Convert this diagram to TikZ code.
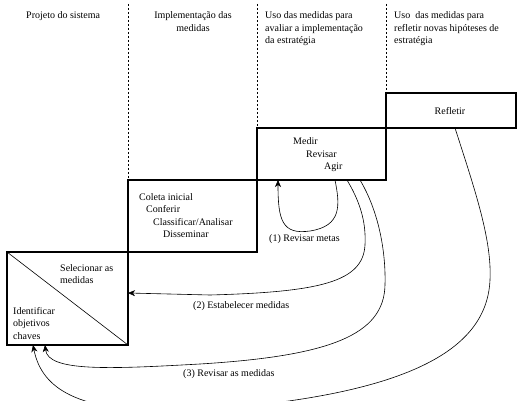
\documentclass[tikz,border=0pt]{standalone}
\usepackage{fontspec}
\setmainfont{Liberation Serif}
\usetikzlibrary{arrows.meta}

\begin{document}
\begin{tikzpicture}[x=1pt,y=-1pt]
    \tikzstyle{stage}=[draw=black,line width=2pt,inner sep=0pt,outer sep=0pt]
    \tikzstyle{txt}=[inner sep=0pt,align=left,anchor=base west,font=\fontsize{10}{12.5}\selectfont]
    \tikzstyle{sep}=[line width=0.5pt,dash pattern=on 2pt off 2pt]
    \tikzstyle{fb}=[line width=0.6pt,-{Stealth[length=7pt,width=6pt,inset=2pt]}]
    \useasboundingbox (0,0) rectangle (520,401);

    \node (ident)[stage,minimum width=121pt,minimum height=93pt] at (67.5,298.5) {};
    \node (coleta)[stage,minimum width=129pt,minimum height=72pt] at (192.5,216) {};
    \node (medir)[stage,minimum width=129pt,minimum height=52pt] at (321.5,154) {};
    \node (refletir)[stage,minimum width=130pt,minimum height=35pt] at (451,110.5) {};
    \draw[line width=0.6pt] (ident.north west) -- (ident.south east);

    \coordinate (d1) at (128,4);
    \coordinate (d2) at (257,4);
    \coordinate (d3) at (386,4);
    \draw[sep] (d1) -- (coleta.north west);
    \draw[sep] (d2) -- (medir.north west);
    \draw[sep] (d3) -- (refletir.north west);

    % base = baseline of the last line
    \node (h1)[txt] at (26,19) {Projeto do sistema};
    \node (h2)[txt,align=center,anchor=base] at (193,31.5) {Implementação das\\medidas};
    \node (h3)[txt] at (265,44) {Uso das medidas para\\avaliar a implementação\\da estratégia};
    \node (h4)[txt] at (394,44) {Uso\ \ das medidas para\\refletir novas hipóteses de\\estratégia};

    \node (t4)[txt,anchor=base] at (450,115) {Refletir};
    \node (t3)[txt] at (293,170) {Medir\\\hspace{13pt}Revisar\\\hspace{31pt}Agir};
    \node (t2)[txt] at (139,237.5) {Coleta inicial\\\hspace{7pt}Conferir\\\hspace{14pt}Classificar/Analisar\\\hspace{24pt}Disseminar};
    \node (t1a)[txt] at (60,283.5) {Selecionar as\\medidas};
    \node (t1b)[txt] at (13,339) {Identificar\\objetivos\\chaves};

    \node (l1)[txt] at (269,242) {(1) Revisar metas};
    \node (l2)[txt] at (193,308) {(2) Estabelecer medidas};
    \node (l3)[txt] at (183,376) {(3) Revisar as medidas};

    \draw[fb] ([xshift=13.5pt]medir.south) .. controls (340,205) and (342,226) .. (310,231)
        .. controls (282,235) and (278,220) .. ([xshift=-43.5pt]medir.south);
    \draw[fb] ([xshift=25.5pt]medir.south) .. controls (362,205) and (366,225) .. (365,245)
        .. controls (363,282) and (320,292) .. (210,295) -- ([yshift=5.5pt]ident.east);
    \draw[fb] ([xshift=38.5pt]medir.south) .. controls (378,210) and (386,250) .. (385,285)
        .. controls (384,335) and (330,356) .. (200,364) .. controls (110,369) and (48,372) .. ([xshift=-22.5pt]ident.south);
    \draw[fb] ([xshift=4pt]refletir.south) .. controls (475,190) and (492,240) .. (490,280)
        .. controls (487,345) and (420,395) .. (200,410) .. controls (80,416) and (42,390) .. ([xshift=-34.5pt]ident.south);
\end{tikzpicture}
\end{document}
